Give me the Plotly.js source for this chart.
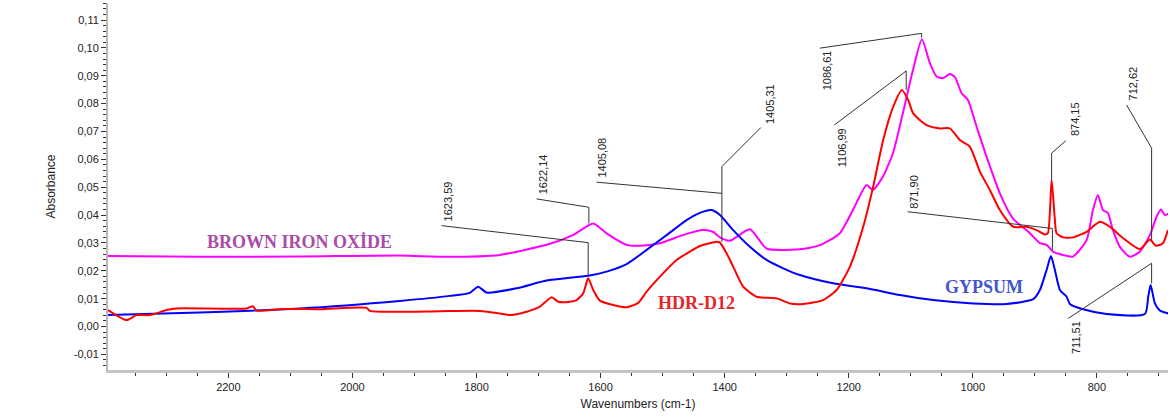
<!DOCTYPE html>
<html>
<head>
<meta charset="utf-8">
<script src="https://cdn.plot.ly/plotly-3.0.1.min.js"></script>
<style>html,body{margin:0;padding:0;background:#fff;}#chart{width:1171px;height:417px;}</style>
</head>
<body>
<div id="chart"></div>
<script>
// ---------- data (wavenumber cm-1, absorbance) ----------
var brownWn = [2394,2246,2085,1923.5,1847.7,1762.3,1681.7,1644.6,1611.9,1590.3,1558.1,1536.6,1504.4,1467.3,1435.1,1419,1407.7,1391.6,1359.3,1332.4,1278.7,1246.5,1214.3,1193.3,1171.2,1161.1,1144.9,1128.8,1112.7,1096.6,1082.1,1069.2,1058.4,1048.2,1037,1028.9,1018.1,1007.9,993.9,977.8,956.4,935.4,908,891.9,881.1,870.9,854.8,838.7,816.6,806.4,798.4,790.3,782.3,774.2,762.9,746.8,730.7,714.6,703.8,696.8,690.4,683.9];
var brownAbs = [0.0253,0.0250,0.0251,0.0255,0.0250,0.0257,0.0297,0.0328,0.0370,0.0334,0.0293,0.0290,0.0299,0.0328,0.0346,0.0340,0.0320,0.0308,0.0349,0.0280,0.0277,0.0292,0.0335,0.0418,0.0508,0.0490,0.0538,0.0622,0.0766,0.0920,0.1031,0.0945,0.0897,0.0891,0.0906,0.0895,0.0837,0.0813,0.0717,0.0609,0.0478,0.0388,0.0335,0.0299,0.0293,0.0269,0.0257,0.0251,0.0310,0.0418,0.0472,0.0418,0.0408,0.0346,0.0286,0.0250,0.0269,0.0328,0.0394,0.0420,0.0400,0.0406];

var hdrWn = [2394,2364,2348,2326.5,2299.6,2283.5,2170.6,2160.4,2154.5,2112,2052.4,1977.2,1971.9,1923.5,1859,1794.5,1762.3,1746.2,1719.3,1697.8,1679,1668.3,1649.5,1638.7,1628,1620,1611.9,1601.1,1579.7,1558.1,1539.4,1525.8,1504.4,1477.5,1456,1439.9,1413,1407.7,1396.9,1386.3,1370.1,1348.5,1316.3,1294.9,1273.4,1241.2,1219.6,1198.1,1176.7,1160.6,1144.5,1128.3,1114.3,1104.2,1096.1,1074.5,1053.1,1037,1020.8,1004.7,988.6,972.5,956.4,934.9,913.3,897.2,883.8,879,873,868.1,865,854.3,838.2,816.6,795.2,779,757.6,730.7,714.6,704.9,693.6,685.6];
var hdrAbs = [0.0059,0.0023,0.0041,0.0041,0.0059,0.0065,0.0065,0.0073,0.0057,0.0063,0.0062,0.0067,0.0056,0.0053,0.0055,0.0056,0.0047,0.0041,0.0053,0.0071,0.0105,0.0089,0.0089,0.0095,0.0119,0.0173,0.0131,0.0093,0.0077,0.0069,0.0085,0.0125,0.0179,0.0239,0.0269,0.0289,0.0304,0.0301,0.0263,0.0215,0.0143,0.0107,0.0101,0.0083,0.0081,0.0095,0.0131,0.0215,0.0358,0.0502,0.0669,0.0789,0.0849,0.0813,0.0765,0.0723,0.0711,0.0711,0.0669,0.0645,0.0556,0.0490,0.0418,0.0358,0.0358,0.0346,0.0330,0.0335,0.0526,0.0394,0.0335,0.0320,0.0320,0.0340,0.0376,0.0358,0.0317,0.0278,0.0312,0.0290,0.0299,0.0346];

var gypWn = [2394,2246,2085,1923.5,1842.9,1810.7,1797.3,1783.8,1735.4,1687,1620,1590.3,1558.1,1525.8,1493.6,1461.4,1439.9,1421.1,1407.7,1386.3,1359.3,1332.4,1305.7,1278.7,1225.1,1171.2,1117.5,1063.9,999.4,945.6,902.7,891.9,881.1,874.1,867.7,859.6,848.8,843.5,822.1,784.4,722.6,717.3,713.4,706.5,698.4,685];
var gypAbs = [0.0041,0.0050,0.0065,0.0092,0.0110,0.0121,0.0143,0.0122,0.0137,0.0165,0.0182,0.0197,0.0224,0.0275,0.0328,0.0382,0.0408,0.0418,0.0400,0.0346,0.0286,0.0239,0.0209,0.0185,0.0155,0.0137,0.0113,0.0095,0.0083,0.0081,0.0098,0.0131,0.0203,0.0253,0.0203,0.0131,0.0107,0.0081,0.0062,0.0045,0.0045,0.0107,0.0149,0.0083,0.0057,0.0047];

var yTickVals = [-0.01,0,0.01,0.02,0.03,0.04,0.05,0.06,0.07,0.08,0.09,0.10,0.11];
var yTickText = ["-0,01","0,00","0,01","0,02","0,03","0,04","0,05","0,06","0,07","0,08","0,09","0,10","0,11"];

// peak labels: text, label centre (wn, abs), leader path points
var peakText = ["1623,59","1622,14","1405,08","1405,31","1086,61","1106,99","871,90","874,15","712,62","711,51"];
var peakLabelWn = [1846,1692.5,1597.4,1327.1,1235.7,1211.5,1096.1,835.5,741.5,832.7];
var peakLabelAbs = [0.0449,0.0547,0.0607,0.0798,0.0918,0.0642,0.0484,0.0744,0.0873,-0.0039];
var peakLeaders = [
  [[1856.3,0.0362],[1620,0.0301],[1620,0.0185]],
  [[1703.2,0.0458],[1618.9,0.0428],[1618.9,0.0370]],
  [[1606.4,0.0518],[1404.5,0.0478]],
  [[1341.6,0.0714],[1404.5,0.0574],[1404.5,0.0304]],
  [[1246.5,0.0999],[1082.6,0.1052],[1082.6,0.1037]],
  [[1223.4,0.0723],[1107.4,0.0917],[1107.4,0.0849]],
  [[1105.1,0.0412],[871.7,0.0352],[871.7,0.0275]],
  [[850,0.0667],[873,0.0622],[873,0.0526]],
  [[752.1,0.0795],[711.8,0.0640],[711.8,0.0310]],
  [[846.3,0.0029],[711.8,0.0227],[711.8,0.0155]]
];

var seriesNames = ["BROWN IRON OXİDE","HDR-D12","GYPSUM"];
var seriesLabelWn = [2084.7,1445.2,982.1];
var seriesLabelAbs = [0.0303,0.0084,0.0143];
var seriesLabelColor = ["#a84ca8","#e8232b","#4455cc"];

// ---------- build ----------
var lineStyle = function(c){ return {color:c, width:2, shape:'spline', smoothing:0.6}; };
var traces = [
  {x: brownWn, y: brownAbs, mode:'lines', line:lineStyle('#ff00ff'), name: seriesNames[0]},
  {x: gypWn, y: gypAbs, mode:'lines', line:lineStyle('#0000ff'), name: seriesNames[2]},
  {x: hdrWn, y: hdrAbs, mode:'lines', line:lineStyle('#ff0000'), name: seriesNames[1]}
];

var annotations = [];
var shapes = [];
for (var i=0;i<peakText.length;i++){
  annotations.push({x: peakLabelWn[i], y: peakLabelAbs[i], xref:'x', yref:'y', text: peakText[i], textangle:-90,
    showarrow:false, xanchor:'center', yanchor:'middle',
    font:{family:'Liberation Sans, Arial, sans-serif', size:11, color:'#222'}});
  var pts = peakLeaders[i];
  var p = 'M ' + pts[0][0] + ',' + pts[0][1];
  for (var j=1;j<pts.length;j++) p += ' L ' + pts[j][0] + ',' + pts[j][1];
  shapes.push({type:'path', xref:'x', yref:'y', path:p, line:{color:'#333', width:1}});
}
for (var k=0;k<seriesNames.length;k++){
  annotations.push({x: seriesLabelWn[k], y: seriesLabelAbs[k], xref:'x', yref:'y', text: '<b>'+seriesNames[k]+'</b>',
    showarrow:false, xanchor:'center', yanchor:'middle',
    font:{family:'Liberation Serif, Times New Roman, serif', size:18, color: seriesLabelColor[k]}});
}

var layout = {
  width:1171, height:417,
  margin:{l:108, r:3, t:3, b:47},
  paper_bgcolor:'#fff', plot_bgcolor:'#fff',
  showlegend:false,
  font:{family:'Liberation Sans, Arial, sans-serif', size:11, color:'#222'},
  xaxis:{
    range:[2394, 685.4], autorange:false,
    showgrid:false, zeroline:false,
    showline:true, linecolor:'#c4c4c4', linewidth:3,
    ticks:'outside', ticklen:5, tickcolor:'#333', tickwidth:1,
    tick0:0, dtick:200,
    minor:{ticks:'outside', ticklen:3, tickcolor:'#333', dtick:50, tick0:0, showgrid:false},
    tickfont:{size:11, color:'#222'},
    title:{text:'Wavenumbers (cm-1)', font:{size:12, color:'#222'}, standoff:8}
  },
  yaxis:{
    range:[-0.0156, 0.1161], autorange:false,
    showgrid:false, zeroline:false,
    showline:true, linecolor:'#b8b8b8', linewidth:2,
    ticks:'outside', ticklen:5, tickcolor:'#333', tickwidth:1,
    tickmode:'array', tickvals:yTickVals, ticktext:yTickText,
    minor:{tickmode:'linear', ticks:'outside', ticklen:3, tickcolor:'#333', dtick:0.002, tick0:0, showgrid:false},
    tickfont:{size:11, color:'#222'},
    title:{text:'Absorbance', font:{size:12, color:'#222'}, standoff:16}
  },
  annotations: annotations,
  shapes: shapes
};

Plotly.newPlot('chart', traces, layout, {displayModeBar:false, staticPlot:true});
</script>
</body>
</html>
